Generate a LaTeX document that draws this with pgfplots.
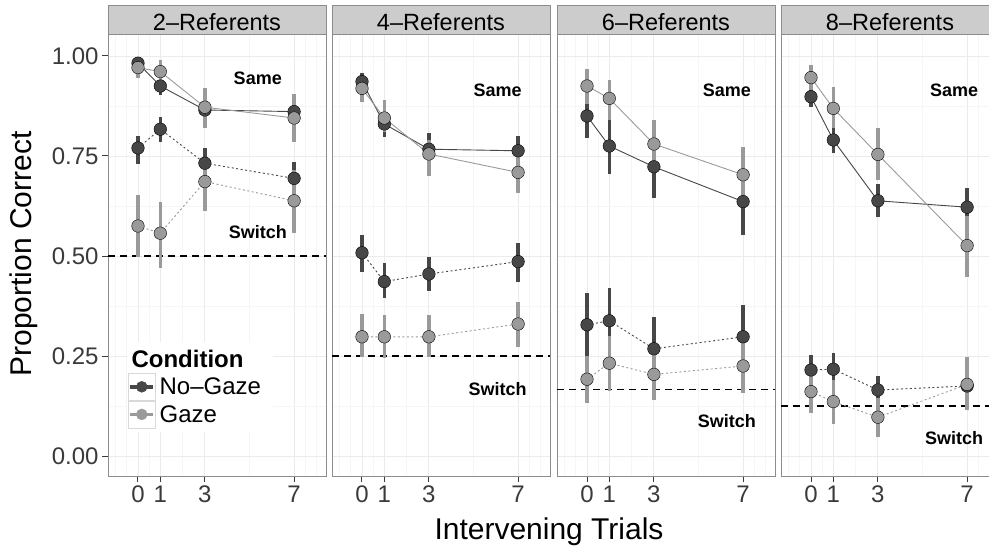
\documentclass[border=0pt]{standalone}
\usepackage{pgfplots}
\usepackage{pgfplotstable}
\pgfplotsset{compat=1.18}
\usepackage{fontspec}
\setmainfont{Liberation Sans}

\definecolor{ngc}{HTML}{474747}
\definecolor{gzc}{HTML}{9A9A9A}
\definecolor{gridmaj}{HTML}{EBEBEB}
\definecolor{gridmin}{HTML}{F6F6F6}
\definecolor{frame}{HTML}{8C8C8C}
\definecolor{stripfill}{HTML}{CCCCCC}
\definecolor{ticktext}{HTML}{3A3A3A}

% x = intervening trials; S = same, W = switch; lo/hi = error bar ends
\pgfplotstableread{
x ngS ngSlo ngShi gS gSlo gShi ngW ngWlo ngWhi gW gWlo gWhi
0 0.982 0.968 0.994 0.971 0.945 0.988 0.770 0.730 0.800 0.575 0.498 0.653
1 0.925 0.903 0.948 0.961 0.930 0.990 0.817 0.785 0.848 0.557 0.470 0.634
3 0.865 0.835 0.895 0.872 0.820 0.920 0.732 0.690 0.770 0.686 0.613 0.748
7 0.861 0.832 0.890 0.845 0.785 0.905 0.694 0.650 0.735 0.638 0.558 0.715
}\tabA
\pgfplotstableread{
x ngS ngSlo ngShi gS gSlo gShi ngW ngWlo ngWhi gW gWlo gWhi
0 0.936 0.910 0.958 0.919 0.886 0.948 0.508 0.460 0.553 0.298 0.248 0.355
1 0.830 0.798 0.857 0.845 0.810 0.890 0.436 0.395 0.482 0.298 0.246 0.353
3 0.767 0.730 0.807 0.755 0.700 0.790 0.455 0.413 0.498 0.298 0.248 0.353
7 0.763 0.727 0.800 0.709 0.657 0.757 0.486 0.436 0.533 0.330 0.273 0.386
}\tabB
\pgfplotstableread{
x ngS ngSlo ngShi gS gSlo gShi ngW ngWlo ngWhi gW gWlo gWhi
0 0.850 0.795 0.905 0.925 0.880 0.967 0.328 0.250 0.407 0.192 0.132 0.250
1 0.775 0.705 0.845 0.894 0.840 0.940 0.338 0.255 0.420 0.232 0.163 0.300
3 0.723 0.645 0.800 0.780 0.720 0.840 0.268 0.190 0.348 0.204 0.140 0.270
7 0.636 0.553 0.720 0.703 0.630 0.773 0.298 0.220 0.378 0.225 0.157 0.290
}\tabC
\pgfplotstableread{
x ngS ngSlo ngShi gS gSlo gShi ngW ngWlo ngWhi gW gWlo gWhi
0 0.898 0.873 0.922 0.946 0.915 0.978 0.215 0.180 0.253 0.161 0.108 0.210
1 0.790 0.757 0.822 0.869 0.820 0.923 0.217 0.175 0.258 0.136 0.080 0.190
3 0.638 0.597 0.680 0.754 0.690 0.820 0.165 0.130 0.200 0.097 0.048 0.145
7 0.622 0.573 0.669 0.526 0.448 0.600 0.175 0.140 0.210 0.179 0.115 0.247
}\tabD

\pgfplotsset{
  panel/.style={
    scale only axis, width=218pt, height=442pt, anchor=south west,
    xmin=-1.345, xmax=8.43, ymin=-0.05, ymax=1.055,
    xtick={0,1,3,7}, xticklabels={0,1,3,7},
    ytick={0,0.25,0.5,0.75,1},
    minor xtick={-1,-0.5,0.5,2,5,7.5,8},
    minor ytick={0.125,0.375,0.625,0.875},
    grid=both,
    major grid style={gridmaj, line width=0.9pt},
    minor grid style={gridmin, line width=0.9pt},
    axis line style={frame, line width=0.8pt},
    tick align=outside, tick pos=left,
    major tick length=6pt, minor tick length=0pt,
    major tick style={ticktext, line width=1pt},
    tick label style={font=\fontsize{24}{24}\selectfont, text=ticktext},
    /pgf/number format/assume math mode=true,
  },
  inner/.style={panel, yticklabels={}, ytick style={draw=none}},
  keyimg/.style={legend image code/.code={
    \draw[gray!30, line width=0.6pt, fill=white] (0pt,-13.5pt) rectangle (27pt,13.5pt);
    \draw[#1, line width=3.5pt] (2pt,0pt) -- (25pt,0pt);
    \fill[#1] (13.5pt,0pt) circle (5.5pt);
  }},
}

\newcommand{\lineplot}[4]{%
  \addplot[#3, #4, line width=0.9pt, mark=none, forget plot] table[x=x, y=#2] {#1};}
\newcommand{\barplot}[3]{%
  \addplot[#3, draw=none, mark=none, forget plot,
    error bars/.cd, y dir=both, y explicit, error mark=none,
    error bar style={draw=#3, line width=3.6pt, solid}]
    table[x=x, y=#2, y error plus expr=\thisrow{#2hi}-\thisrow{#2},
          y error minus expr=\thisrow{#2}-\thisrow{#2lo}] {#1};}
\newcommand{\pointplot}[3]{%
  \addplot[only marks, mark=*, mark size=6.3pt,
    mark options={draw=none, fill=#3}, forget plot] table[x=x, y=#2] {#1};}
\newcommand{\chance}[1]{%
  \addplot[black, line width=1.4pt, dash pattern=on 7pt off 5pt, forget plot]
    coordinates {(-1.345,#1) (8.43,#1)};}
\newcommand{\panelplots}[1]{%
  \lineplot{#1}{ngS}{ngc}{solid}
  \lineplot{#1}{gS}{gzc}{solid}
  \lineplot{#1}{ngW}{ngc}{dash pattern=on 2pt off 2.5pt}
  \lineplot{#1}{gW}{gzc}{dash pattern=on 2pt off 2.5pt}
  \barplot{#1}{ngS}{ngc}\barplot{#1}{ngW}{ngc}
  \barplot{#1}{gS}{gzc}\barplot{#1}{gW}{gzc}
  \pointplot{#1}{ngS}{ngc}\pointplot{#1}{ngW}{ngc}
  \pointplot{#1}{gS}{gzc}\pointplot{#1}{gW}{gzc}}

\tikzset{lab/.style={font=\bfseries\fontsize{18}{18}\selectfont}}

\begin{document}
\begin{tikzpicture}
\useasboundingbox (0pt,0pt) rectangle (989pt,550pt);

\begin{axis}[panel, name=p1, at={(108pt,74pt)},
  yticklabels={0.00,0.25,0.50,0.75,1.00},
  legend style={at={(0.0917,0.233)}, anchor=north west, draw=none, fill=none,
    inner sep=0pt, outer sep=0pt, row sep=0pt, column sep=4pt,
    nodes={inner sep=0pt}, font=\fontsize{24}{24}\selectfont},
  legend cell align=left]
\fill[white] (rel axis cs:0.087,0.0995) rectangle (rel axis cs:0.757,0.303);
\chance{0.5}
\panelplots{\tabA}
\node[lab] at (axis cs:5.37,0.943) {Same};
\node[lab] at (axis cs:5.37,0.561) {Switch};
\node[anchor=base west, font=\bfseries\fontsize{24}{24}\selectfont]
  at (rel axis cs:0.0917,0.2466) {Condition};
\addlegendimage{keyimg=ngc}\addlegendentry{No–Gaze}
\addlegendimage{keyimg=gzc}\addlegendentry{Gaze}
\end{axis}

\begin{axis}[inner, name=p2, at={(332pt,74pt)}]
\chance{0.25}
\panelplots{\tabB}
\node[lab] at (axis cs:6.08,0.914) {Same};
\node[lab] at (axis cs:6.08,0.167) {Switch};
\end{axis}

\begin{axis}[inner, name=p3, at={(557pt,74pt)}]
\chance{0.1667}
\panelplots{\tabC}
\node[lab] at (axis cs:6.27,0.914) {Same};
\node[lab] at (axis cs:6.27,0.087) {Switch};
\end{axis}

\begin{axis}[inner, name=p4, at={(781pt,74pt)}]
\chance{0.125}
\panelplots{\tabD}
\node[lab] at (axis cs:6.42,0.914) {Same};
\node[lab] at (axis cs:6.42,0.046) {Switch};
\end{axis}

\foreach \p/\t in {p1/2–Referents, p2/4–Referents, p3/6–Referents, p4/8–Referents}{
  \draw[frame, fill=stripfill, line width=0.8pt] (\p.north west) rectangle ([yshift=29pt]\p.north east);
  \node[anchor=base, font=\fontsize{23.5}{24}\selectfont] at ([yshift=3.3pt]\p.north) {\t};
}

\node[rotate=90, font=\fontsize{30}{30}\selectfont] at (24pt,296pt) {Proportion Correct};
\node[anchor=base, font=\fontsize{30}{30}\selectfont] at (549pt,11pt) {Intervening Trials};
\end{tikzpicture}
\end{document}
